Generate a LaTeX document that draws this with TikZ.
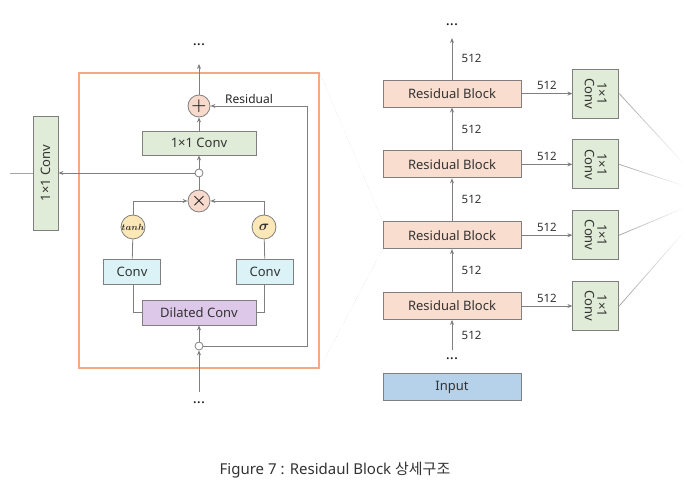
\documentclass[tikz,border=0pt]{standalone}
\usepackage{amsmath}
\usepackage{fontspec}
\setmainfont{Noto Sans}
\newfontfamily\krfont{Noto Sans CJK KR}
\usepackage{tikz}
\usetikzlibrary{arrows.meta, positioning, fadings}
\usepackage{xcolor}

\definecolor{lineg}{HTML}{7F7F7F}
\definecolor{convgreen}{HTML}{E0ECD7}
\definecolor{opfill}{HTML}{F8DACC}
\definecolor{rbfill}{HTML}{F9DDCF}
\definecolor{convcyan}{HTML}{DBF2F6}
\definecolor{dilfill}{HTML}{DDC8EA}
\definecolor{gatefill}{HTML}{FCE7B6}
\definecolor{inpfill}{HTML}{B5D2EA}
\definecolor{framec}{HTML}{F5A982}

\begin{document}
\begin{tikzpicture}[
    x=1pt, y=1pt,
    node distance=43pt,
    font=\fontsize{13}{14}\selectfont,
    box/.style={draw=lineg, line width=0.8pt, inner sep=0pt, text=black!80},
    convg/.style={box, fill=convgreen, minimum width=114pt, minimum height=24pt},
    rblock/.style={box, fill=rbfill, minimum width=138pt, minimum height=27pt},
    sideconv/.style={box, fill=convgreen, minimum width=49pt, minimum height=46pt, rotate=-90, align=center, font=\fontsize{13}{12.5}\selectfont},
    convc/.style={box, fill=convcyan, minimum width=57pt, minimum height=25pt},
    opnode/.style={box, circle, fill=opfill, minimum size=22pt, font=\LARGE, text=black!85},
    gate/.style={box, circle, fill=gatefill, minimum size=24pt},
    dot/.style={box, circle, fill=white, minimum size=8pt},
    lbl/.style={font=\fontsize{11.5}{12}\selectfont, text=black!80},
    dots/.style={font=\fontsize{15}{15}\selectfont\bfseries, text=black!90},
    arrow/.style={-{Stealth[length=5pt, width=4pt]}, lineg, line width=0.8pt},
    wire/.style={lineg, line width=0.8pt}
]
    \useasboundingbox (0,0) rectangle (695,494);

    % residual block, detail
    \node[draw=framec, line width=1.2pt, minimum width=240pt, minimum height=295pt] (frame) at (199,273.5) {};
    \node[opnode] (plus) at (199,388) {$\boldsymbol{+}$};
    \node[convg] (conv1) at (199,351) {1×1 Conv};
    \node[dot] (split) at (199,321) {};
    \node[opnode] (times) at (199,293) {$\boldsymbol{\times}$};
    \node[gate] (tanh) at (133,267) {\fontsize{9.5}{9.5}\selectfont$\boldsymbol{tanh}$};
    \node[gate] (sig) at (264,267) {\Large$\boldsymbol{\sigma}$};
    \node[convc] (convl) at (132,222.5) {Conv};
    \node[convc] (convr) at (265,222.5) {Conv};
    \node[box, fill=dilfill, minimum width=114pt, minimum height=25pt] (dil) at (199,181.5) {Dilated Conv};
    \node[dot] (inp) at (199,148) {};
    \node[convg, rotate=90, minimum height=25pt] (skip) at (45.5,321) {1×1 Conv};
    \coordinate (out) at (199,430);
    \node[dots] (dotsout) at (199,449) {...};
    \coordinate (in) at (199,102);
    \node[dots] (dotsin) at (199,91) {...};
    \coordinate (rbot) at (307,148);
    \coordinate (rtop) at (307,388);
    \coordinate (skipout) at (10,321);

    \draw[arrow] (plus) -- (out);
    \draw[arrow] (conv1) -- (plus);
    \draw[arrow] (split) -- (conv1);
    \draw[wire] (times) -- (split);
    \draw[arrow] (split) -- (skip);
    \draw[wire, lineg!70] (skip) -- (skipout);
    \draw[arrow] (tanh) |- (times);
    \draw[arrow] (sig) |- (times);
    \draw[wire] (convl) -- (tanh);
    \draw[wire] (convr) -- (sig);
    \draw[wire] (convl.south -| tanh) |- (dil.west);
    \draw[wire] (convr.south -| sig) |- (dil.east);
    \draw[arrow] (inp) -- (dil);
    \draw[arrow] (in) -- (inp);
    \draw[arrow] (inp) -- (rbot) -- (rtop) -- node[above=-1pt, pos=0.6, font=\fontsize{12}{12}\selectfont, text=black!85]{Residual} (plus);

    % stacked residual blocks
    \node[rblock] (rb1) at (452,188) {Residual Block};
    \node[rblock, above=of rb1] (rb2) {Residual Block};
    \node[rblock, above=of rb2] (rb3) {Residual Block};
    \node[rblock, above=of rb3] (rb4) {Residual Block};
    \node[box, fill=inpfill, minimum width=138pt, minimum height=27pt] (input) at (452,107) {Input};
    \node[dots] (dotsrb) at (452,135) {...};
    \coordinate (rbin) at (452,144);
    \coordinate (rbout) at (452,456);
    \node[dots] (dotstop) at (452,469) {...};

    \foreach \i in {1,...,4} {
        \node[sideconv, anchor=south] (sc\i) at ([xshift=51pt]rb\i.east) {1×1\\Conv};
        \draw[arrow] (rb\i) -- node[lbl, above=0pt]{512} (sc\i);
    }
    \draw[arrow] (rbin) -- node[lbl, right=6pt]{512} (rb1);
    \draw[arrow] (rb1) -- node[lbl, right=6pt]{512} (rb2);
    \draw[arrow] (rb2) -- node[lbl, right=6pt]{512} (rb3);
    \draw[arrow] (rb3) -- node[lbl, right=6pt]{512} (rb4);
    \draw[arrow] (rb4) -- node[lbl, right=6pt]{512} (rbout);

    % lines to the right edge
    \coordinate (f1) at (684,262);
    \coordinate (f2) at (684,286);
    \coordinate (f3) at (684,308);
    \coordinate (f4) at (684,330);
    \foreach \i in {1,...,4}
        \draw[lineg!70, line width=0.8pt, path fading=east] (sc\i.north) -- (f\i);

    % zoom lines
    \draw[lineg!45, dotted] (frame.north east) -- (rb2.north west);
    \draw[lineg!45, dotted] (frame.south east) -- (rb2.south west);

    \node[font=\fontsize{15}{16}\selectfont, text=black!80] (caption) at (335,24) {Figure 7 : Residaul Block {\krfont 상세구조}};
\end{tikzpicture}
\end{document}
